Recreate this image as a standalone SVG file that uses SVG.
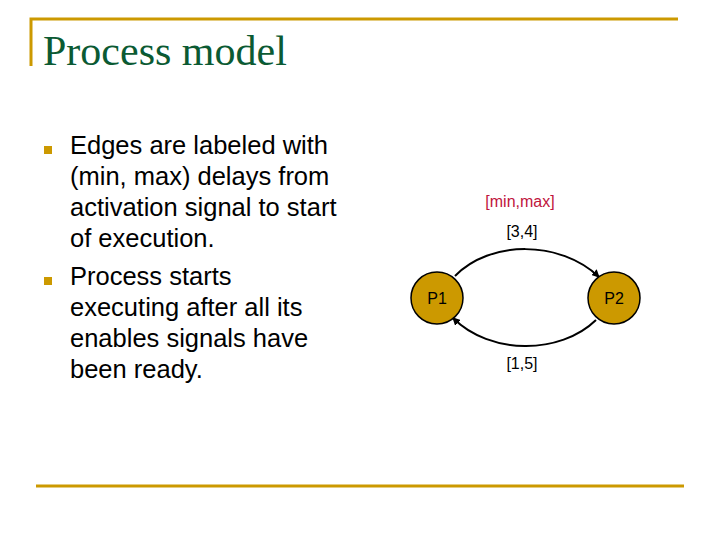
<svg xmlns="http://www.w3.org/2000/svg" width="720" height="540" viewBox="0 0 720 540">
<defs>
<style>
.b{font-family:"Liberation Sans",Arial,sans-serif;font-size:25.5px;fill:#000}
.s{font-family:"Liberation Sans",Arial,sans-serif;font-size:16px;fill:#000}
.n{fill:#cc9900;stroke:#000;stroke-width:1.5}
.e{fill:none;stroke:#000;stroke-width:2}
</style>
<marker id="a" markerWidth="8" markerHeight="8" refX="7" refY="4" orient="auto" markerUnits="userSpaceOnUse"><path d="M0,0 L8,4 L0,8 Z" fill="#000"/></marker>
</defs>
<rect width="720" height="540" fill="#fff"/>
<path d="M31,66 V19 H678" fill="none" stroke="#cc9900" stroke-width="3"/>
<line x1="36" y1="486" x2="684" y2="486" stroke="#cc9900" stroke-width="3"/>
<text x="43" y="65" font-family="Liberation Serif,serif" font-size="42" fill="#0b5a33">Process model</text>
<rect x="44" y="146" width="8" height="8" fill="#cc9900"/>
<rect x="44" y="277" width="8" height="8" fill="#cc9900"/>
<text class="b"><tspan x="70" y="154">Edges are labeled with</tspan><tspan x="70" y="185">(min, max) delays from</tspan><tspan x="70" y="216">activation signal to start</tspan><tspan x="70" y="247">of execution.</tspan><tspan x="70" y="285">Process starts</tspan><tspan x="70" y="316">executing after all its</tspan><tspan x="70" y="347">enables signals have</tspan><tspan x="70" y="378">been ready.</tspan></text>
<g id="connectors">
<path class="e" d="M455,276 C490,240 560,240 599,277" marker-end="url(#a)"/>
<path class="e" d="M596,320 C560,355 490,355 453,318" marker-end="url(#a)"/>
</g>
<g id="P1"><circle class="n" cx="437" cy="298" r="26"/><text class="s" x="437" y="304" text-anchor="middle">P1</text></g>
<g id="P2"><circle class="n" cx="614" cy="298" r="26"/><text class="s" x="614" y="304" text-anchor="middle">P2</text></g>
<text class="s" x="520" y="207" text-anchor="middle" style="fill:#c0143c">[min,max]</text>
<text class="s" x="522" y="237" text-anchor="middle">[3,4]</text>
<text class="s" x="522" y="369" text-anchor="middle">[1,5]</text>
</svg>
